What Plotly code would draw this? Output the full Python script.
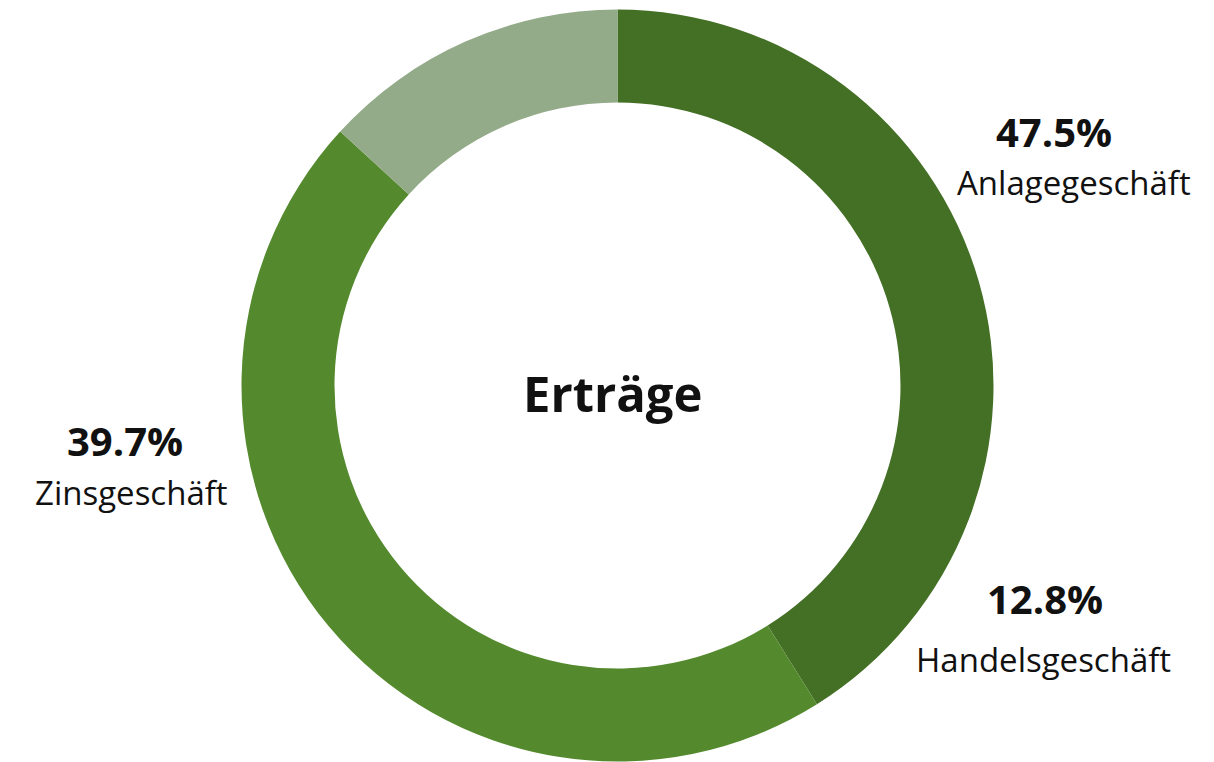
import plotly.graph_objects as go

# Segment sizes as drawn (clockwise from 12 o'clock)
segments = ["Rechts", "Unten/Links", "Oben"]
segment_values = [41.1, 45.7, 13.2]
segment_colors = ["#447026", "#548a2d", "#94ab89"]

# Label texts
label_pcts = ["47.5%", "12.8%", "39.7%"]
label_names = ["Anlagegeschäft", "Handelsgeschäft", "Zinsgeschäft"]
center_title = "Erträge"

W, H = 1214, 762
cx, cy, R = 617.5, 385.5, 376.0

fig = go.Figure(go.Pie(
    labels=segments,
    values=segment_values,
    hole=283.0 / R,
    sort=False,
    direction="clockwise",
    rotation=0,
    textinfo="none",
    hoverinfo="skip",
    marker=dict(colors=segment_colors, line=dict(width=0)),
    showlegend=False,
    domain=dict(x=[(cx - R) / W, (cx + R) / W], y=[1 - (cy + R) / H, 1 - (cy - R) / H]),
))

# label positions (pixel centers)
pct_pos = [(1054, 131), (1045, 598), (125, 440)]
name_pos = [(1074, 182), (1043, 659), (131, 492)]

ann = []
for t, (x, y) in zip(label_pcts, pct_pos):
    ann.append(dict(text=f"<b>{t}</b>", x=x / W, y=1 - y / H, xref="paper", yref="paper",
                    xanchor="center", yanchor="middle", showarrow=False,
                    font=dict(family="Open Sans", size=40, color="#111111")))
for t, (x, y) in zip(label_names, name_pos):
    ann.append(dict(text=t, x=x / W, y=1 - y / H, xref="paper", yref="paper",
                    xanchor="center", yanchor="middle", showarrow=False,
                    font=dict(family="Open Sans", size=33, color="#111111")))
ann.append(dict(text=f"<b>{center_title}</b>", x=612 / W, y=1 - 393 / H, xref="paper", yref="paper",
                xanchor="center", yanchor="middle", showarrow=False,
                font=dict(family="Open Sans", size=49, color="#111111")))

fig.update_layout(
    width=W, height=H,
    margin=dict(l=0, r=0, t=0, b=0),
    paper_bgcolor="white", plot_bgcolor="white",
    annotations=ann,
)

fig.write_html("out.html", config={"displayModeBar": False},
               post_script="document.body.style.margin='0';document.body.style.overflow='hidden';")
